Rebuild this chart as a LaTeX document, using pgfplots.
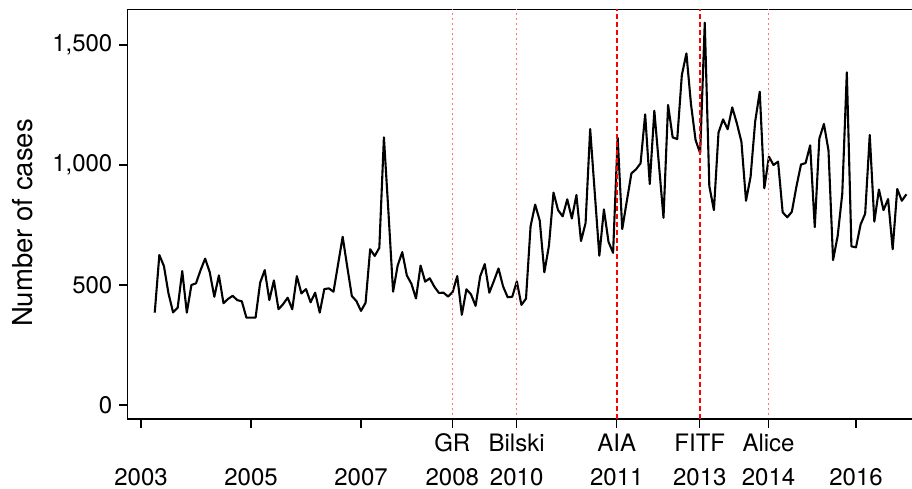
\documentclass[border=0pt]{standalone}
\usepackage{pgfplots}
\pgfplotsset{compat=1.18}
\usepackage{pgfplotstable}
\usepackage{fontspec}
\setmainfont{TeX Gyre Heros}

\newcommand{\ev}[2]{\makebox[0pt]{\raisebox{34.5pt}[0pt][0pt]{#1}}\makebox[0pt]{#2}}

\pgfplotstableread{
y
385
625
579
465
386
405
558
385
500
507
562
610
553
451
540
424
442
455
437
432
364
364
364
510
562
437
519
399
420
447
399
537
465
483
428
468
385
483
486
472
587
701
576
454
433
392
426
649
621
655
1115
800
472
581
637
540
505
444
581
514
528
493
467
468
452
471
537
376
482
461
413
536
587
468
517
569
494
449
451
515
417
443
745
835
768
553
663
885
812
786
857
777
875
683
758
1150
885
622
815
680
634
1114
733
850
965
982
1007
1211
921
1226
1003
780
1250
1115
1108
1375
1465
1253
1104
1049
1593
912
812
1135
1190
1149
1240
1174
1097
851
951
1181
1305
903
1035
1000
1014
803
782
805
910
1002
1008
1082
741
1110
1171
1061
604
704
880
1386
661
657
752
797
1125
764
898
812
858
649
900
851
878
}\cases

\begin{document}
\begin{tikzpicture}
\begin{axis}[
  name=ax,
  scale only axis,
  width=792.5pt, height=409.5pt,
  xmin=2002.7545, xmax=2017.1636,
  ymin=-58.3, ymax=1647.9,
  axis line style={line width=1.2pt},
  tick align=outside,
  tick pos=left,
  major tick length=9pt,
  every tick/.style={black, line width=1.2pt},
  ytick={0,500,1000,1500},
  yticklabels={0,500,{1,000},{1,500}},
  xtick={2003,2005,2007,2008.66,2009.83,2011.65,2013.16,2014.41,2016},
  xticklabels={{\makebox[0pt]{2003}},{\makebox[0pt]{2005}},{\makebox[0pt]{2007}},{\ev{GR}{2008}},{\ev{Bilski}{2010}},{\ev{AIA}{2011}},{\ev{FITF}{2013}},{\ev{Alice}{2014}},{\makebox[0pt]{2016}}},
  tick label style={font=\fontsize{24}{29}\selectfont},
  xticklabel style={inner sep=0pt, anchor=base, yshift=-57.6pt},
  yticklabel style={inner sep=0pt, anchor=east, xshift=-6pt},
  every axis y label/.style={at={(axis description cs:-0.1325,0.4786)}, rotate=90, anchor=center, font=\fontsize{27.5}{32}\selectfont},
  ylabel={Number of cases},
  clip=true,
]
\addplot[black, line width=2.1pt, line join=round] table[x expr=2003.25+\coordindex/12, y=y] {\cases};
\addplot[red!55, line width=1.5pt, dash pattern=on 1.4pt off 3.6pt] coordinates {(2008.66,-40) (2008.66,1647.9)};
\addplot[red!55, line width=1.5pt, dash pattern=on 1.4pt off 3.6pt] coordinates {(2009.83,-40) (2009.83,1647.9)};
\addplot[red!55, line width=1.5pt, dash pattern=on 1.4pt off 3.6pt] coordinates {(2014.41,-40) (2014.41,1647.9)};
\addplot[red, line width=1.8pt, dash pattern=on 5pt off 3pt] coordinates {(2011.65,-58.3) (2011.65,1647.9)};
\addplot[red, line width=1.8pt, dash pattern=on 5pt off 3pt] coordinates {(2013.16,-58.3) (2013.16,1647.9)};
\end{axis}
\pgfresetboundingbox
\path ([xshift=-127.5pt,yshift=-70pt]ax.south west) rectangle ([xshift=784.5pt,yshift=419pt]ax.south west);
\end{tikzpicture}
\end{document}
